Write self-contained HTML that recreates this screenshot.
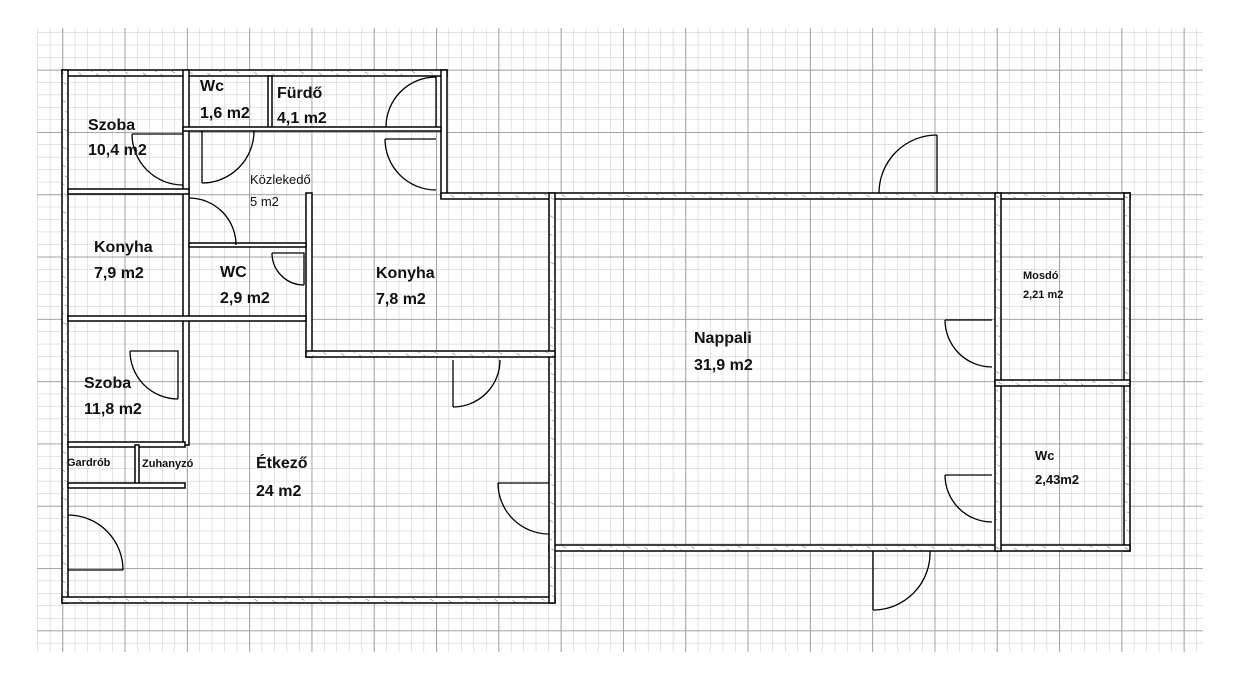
<!DOCTYPE html>
<html><head><meta charset="utf-8"><style>
html,body{margin:0;padding:0;background:#fff}
svg{display:block}
text{font-family:"Liberation Sans",sans-serif;fill:#111}
.b{font-weight:bold;font-size:16px}
.s{font-size:13px}
.t{font-size:11px}
</style></head><body>
<svg width="1241" height="673" viewBox="0 0 1241 673" xmlns="http://www.w3.org/2000/svg">
<defs>
<pattern id="minor" x="0" y="7.4" width="12.46" height="12.46" patternUnits="userSpaceOnUse">
<path d="M0,0 H12.46 M0,0 V12.46" stroke="#c8c8c8" stroke-width="1" fill="none"/>
</pattern>
<pattern id="major" x="0" y="7.4" width="62.3" height="62.3" patternUnits="userSpaceOnUse">
<path d="M0,0 H62.3 M0,0 V62.3" stroke="#9a9a9a" stroke-width="1.8" fill="none"/>
</pattern>
<pattern id="hatch" width="8" height="8" patternUnits="userSpaceOnUse" patternTransform="rotate(-60)">
<path d="M0,0 V4" stroke="#666" stroke-width="1"/>
</pattern>
</defs>
<rect x="37" y="28" width="1166" height="624" fill="url(#minor)"/>
<rect x="37" y="28" width="1166" height="624" fill="url(#major)"/>
<g fill="#fff" stroke="#000" stroke-width="1.5">
<!-- walls -->
<rect x="62" y="70" width="385" height="6"/>
<rect x="62" y="70" width="6" height="533"/>
<rect x="441" y="70" width="6" height="128"/>
<rect x="62" y="597" width="493" height="6"/>
<rect x="441" y="193" width="689" height="6"/>
<rect x="1124" y="193" width="6" height="358"/>
<rect x="549" y="545" width="581" height="6"/>
<rect x="549" y="193" width="6" height="410"/>
<rect x="306" y="193" width="6" height="164"/>
<rect x="306" y="351" width="249" height="6"/>
<rect x="183" y="70" width="6" height="375"/>
<rect x="268" y="76" width="4" height="54"/>
<rect x="183" y="127" width="258" height="4"/>
<rect x="68" y="189" width="121" height="5"/>
<rect x="189" y="243" width="117" height="4"/>
<rect x="68" y="316" width="238" height="5"/>
<rect x="68" y="442" width="117" height="5"/>
<rect x="135" y="445" width="4" height="40"/>
<rect x="68" y="483" width="117" height="5"/>
<rect x="995" y="193" width="6" height="358"/>
<rect x="995" y="380" width="135" height="6"/>
</g>
<g fill="url(#hatch)" stroke="none">
<rect x="63" y="71" width="383" height="4"/>
<rect x="63" y="71" width="4" height="531"/>
<rect x="63" y="598" width="491" height="4"/>
<rect x="442" y="194" width="687" height="4"/>
<rect x="1125" y="194" width="4" height="356"/>
<rect x="550" y="546" width="579" height="4"/>
<rect x="550" y="194" width="4" height="408"/>
<rect x="307" y="352" width="247" height="4"/>
<rect x="996" y="194" width="4" height="356"/>
<rect x="996" y="381" width="133" height="4"/>
</g>
<g fill="none" stroke="#000" stroke-width="1.3">
<path d="M132,134 H183 M132,134 A51,51 0 0 0 183,185"/>
<path d="M202,131 V183 M202,183 A52,52 0 0 0 254,131"/>
<path d="M436,77 V127 M436,77 A50,50 0 0 0 386,127"/>
<path d="M385,139 H436 M385,139 A51,51 0 0 0 436,190"/>
<path d="M189,198 A47,47 0 0 1 236,245"/>
<path d="M272,253 H304 V285 M272,253 A32,32 0 0 0 304,285"/>
<path d="M130,351 H178 V399 M130,351 A48,48 0 0 0 178,399"/>
<path d="M68,570 H123 M68,515 A55,55 0 0 1 123,570"/>
<path d="M453,360 V407 M453,407 A47,47 0 0 0 500,360"/>
<path d="M498,483 H549 M498,483 A51,51 0 0 0 549,534"/>
<path d="M945,320 H992 M945,320 A47,47 0 0 0 992,367"/>
<path d="M945,475 H992 M945,475 A47,47 0 0 0 992,522"/>
<path d="M937,135 V193 M937,135 A58,58 0 0 0 879,193"/>
<path d="M873,551 V610 M873,610 A57,57 0 0 0 930,551"/>
</g>
<text class="b" x="88" y="130">Szoba</text>
<text class="b" x="88" y="155">10,4 m2</text>
<text class="b" x="200" y="91">Wc</text>
<text class="b" x="200" y="118">1,6 m2</text>
<text class="b" x="277" y="98">Fürdő</text>
<text class="b" x="277" y="123">4,1 m2</text>
<text class="s" x="250" y="184">Közlekedő</text>
<text class="s" x="250" y="206">5 m2</text>
<text class="b" x="94" y="252">Konyha</text>
<text class="b" x="94" y="278">7,9 m2</text>
<text class="b" x="220" y="277">WC</text>
<text class="b" x="220" y="303">2,9 m2</text>
<text class="b" x="376" y="278">Konyha</text>
<text class="b" x="376" y="304">7,8 m2</text>
<text class="b" x="694" y="343">Nappali</text>
<text class="b" x="694" y="370">31,9 m2</text>
<text class="t" x="1023" y="279" style="font-weight:bold">Mosdó</text>
<text class="t" x="1023" y="298" style="font-weight:bold">2,21 m2</text>
<text class="s" x="1035" y="460" style="font-weight:bold">Wc</text>
<text class="s" x="1035" y="484" style="font-weight:bold">2,43m2</text>
<text class="b" x="84" y="388">Szoba</text>
<text class="b" x="84" y="414">11,8 m2</text>
<text class="t" x="67" y="466" style="font-weight:bold">Gardrób</text>
<text class="t" x="142" y="467" style="font-weight:bold">Zuhanyzó</text>
<text class="b" x="256" y="468">Étkező</text>
<text class="b" x="256" y="496">24 m2</text>
</svg>
</body></html>
